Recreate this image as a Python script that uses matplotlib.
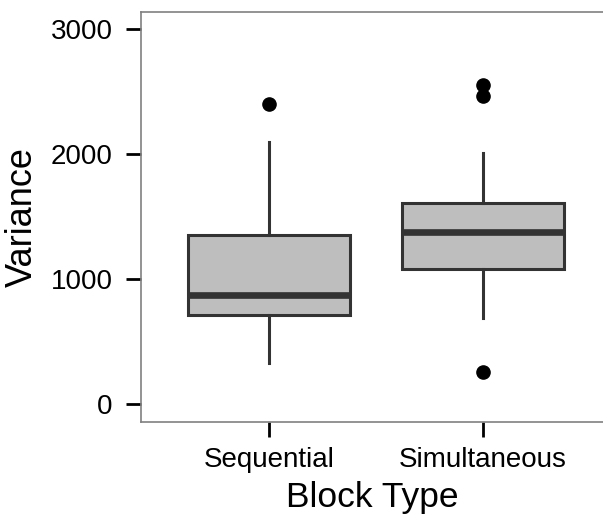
import matplotlib
matplotlib.use("Agg")
import matplotlib.pyplot as plt

categories = ["Sequential", "Simultaneous"]
q1 = [712, 1077]
median = [872, 1373]
q3 = [1352, 1605]
whisker_low = [328, 690]
whisker_high = [2096, 2005]
outliers = [[2400], [2464, 2555, 258]]
y_ticks = [0, 1000, 2000, 3000]

plt.rcParams['font.family'] = ['Liberation Sans', 'DejaVu Sans']

W, H = 603, 514
fig = plt.figure(figsize=(W / 100, H / 100), dpi=100)
ax = fig.add_axes([141 / W, (H - 422) / H, (603 - 141) / W, (422 - 12) / H])

stats = []
for i, c in enumerate(categories):
    stats.append(dict(label=c, med=median[i], q1=q1[i], q3=q3[i],
                      whislo=whisker_low[i], whishi=whisker_high[i],
                      fliers=outliers[i]))

ax.bxp(stats, positions=[1, 2], widths=0.757, patch_artist=True,
       showcaps=False,
       boxprops=dict(facecolor='#BEBEBE', edgecolor='#333333', linewidth=2.2),
       medianprops=dict(color='#333333', linewidth=4.8, solid_capstyle='butt'),
       whiskerprops=dict(color='#333333', linewidth=2.2),
       flierprops=dict(marker='o', markerfacecolor='black', markeredgecolor='black',
                       markersize=9.5))

ax.set_xlim(0.4, 0.4 + (603 - 140.6) / 214)
ax.set_ylim(-144, 3136)
ax.set_yticks(y_ticks)
ax.set_yticklabels([str(v) for v in y_ticks])
ax.set_xticks([1, 2])
ax.set_xticklabels(categories)

for s in ['left', 'bottom', 'top']:
    ax.spines[s].set_color('#808080')
    ax.spines[s].set_linewidth(1.2)
ax.spines['right'].set_visible(False)

ax.tick_params(axis='both', colors='black', labelcolor='black', labelsize=20,
               length=10.8, width=2.0)
ax.tick_params(axis='x', pad=7.5)
ax.tick_params(axis='y', pad=9.5)
ax.set_xlabel("Block Type", fontsize=25.5, labelpad=5.5)
ax.set_ylabel("Variance", fontsize=26, labelpad=8)

fig.savefig("out.png", dpi=100)
